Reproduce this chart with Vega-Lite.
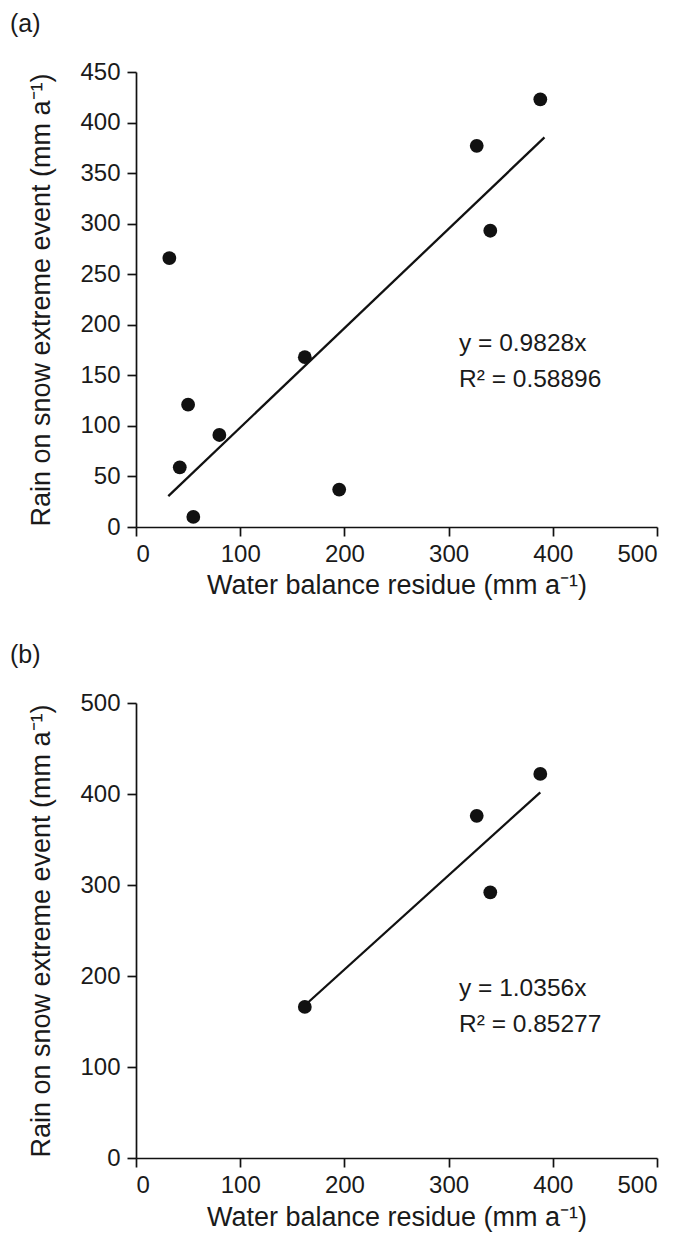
{
  "$schema": "https://vega.github.io/schema/vega-lite/v6.json",
  "background": "white",
  "padding": {"left": 10, "top": 12, "right": 5, "bottom": 5},
  "spacing": 45,
  "config": {
    "font": "Liberation Sans",
    "view": {"stroke": null},
    "axis": {
      "grid": false,
      "domainColor": "#111111",
      "domainWidth": 1.7,
      "tickColor": "#111111",
      "tickWidth": 1.7,
      "tickSize": 9,
      "labelFontSize": 24,
      "labelColor": "#1a1a1a",
      "labelFont": "Liberation Sans",
      "titleFont": "Liberation Sans",
      "titleFontSize": 27,
      "titleFontWeight": "normal",
      "titleColor": "#1a1a1a"
    },
    "title": {"fontSize": 25, "fontWeight": "normal", "color": "#1a1a1a", "font": "Liberation Sans"}
  },
  "datasets": {
    "pts": [
      {"panel": "a", "x": 32, "y": 266},
      {"panel": "a", "x": 42, "y": 59},
      {"panel": "a", "x": 50, "y": 121},
      {"panel": "a", "x": 55, "y": 10},
      {"panel": "a", "x": 80, "y": 91},
      {"panel": "a", "x": 162, "y": 168},
      {"panel": "a", "x": 195, "y": 37},
      {"panel": "a", "x": 327, "y": 377},
      {"panel": "a", "x": 340, "y": 293},
      {"panel": "a", "x": 388, "y": 423},
      {"panel": "b", "x": 162, "y": 166},
      {"panel": "b", "x": 327, "y": 376},
      {"panel": "b", "x": 340, "y": 292},
      {"panel": "b", "x": 388, "y": 422}
    ],
    "fit": [
      {"panel": "a", "x": 31, "y": 30.5},
      {"panel": "a", "x": 392, "y": 385.3},
      {"panel": "b", "x": 164, "y": 169.8},
      {"panel": "b", "x": 388, "y": 401.8}
    ],
    "eqs": [
      {"panel": "a", "x": 310, "y": 174, "label": "y = 0.9828x\nR² = 0.58896"},
      {"panel": "b", "x": 310, "y": 178, "label": "y = 1.0356x\nR² = 0.85277"}
    ]
  },
  "vconcat": [
    {
      "title": {"text": "(a)", "anchor": "start", "frame": "group", "dx": -126, "offset": 23},
      "width": 521,
      "height": 455,
      "layer": [
        {
          "data": {"name": "pts"},
          "transform": [{"filter": "datum.panel === 'a'"}],
          "mark": {"type": "circle", "size": 190, "opacity": 1, "color": "#111111"},
          "encoding": {
            "x": {"field": "x", "type": "quantitative", "scale": {"domain": [0, 500], "nice": false},
                  "axis": {"values": [0, 100, 200, 300, 400, 500], "title": "Water balance residue (mm a⁻¹)", "labelPadding": 6, "titlePadding": 6}},
            "y": {"field": "y", "type": "quantitative", "scale": {"domain": [0, 450], "nice": false},
                  "axis": {"values": [0, 50, 100, 150, 200, 250, 300, 350, 400, 450], "title": "Rain on snow extreme event (mm a⁻¹)", "labelPadding": 7, "titlePadding": 24}}
          }
        },
        {
          "data": {"name": "fit"},
          "transform": [{"filter": "datum.panel === 'a'"}],
          "mark": {"type": "line", "color": "#111111", "strokeWidth": 2.3},
          "encoding": {
            "x": {"field": "x", "type": "quantitative"},
            "y": {"field": "y", "type": "quantitative"}
          }
        },
        {
          "data": {"name": "eqs"},
          "transform": [{"filter": "datum.panel === 'a'"}],
          "mark": {"type": "text", "align": "left", "baseline": "alphabetic", "fontSize": 24.5, "lineHeight": 36, "lineBreak": "\n", "color": "#1a1a1a"},
          "encoding": {
            "x": {"field": "x", "type": "quantitative"},
            "y": {"field": "y", "type": "quantitative"},
            "text": {"field": "label"}
          }
        }
      ]
    },
    {
      "title": {"text": "(b)", "anchor": "start", "frame": "group", "dx": -126, "offset": 23},
      "width": 521,
      "height": 455,
      "layer": [
        {
          "data": {"name": "pts"},
          "transform": [{"filter": "datum.panel === 'b'"}],
          "mark": {"type": "circle", "size": 190, "opacity": 1, "color": "#111111"},
          "encoding": {
            "x": {"field": "x", "type": "quantitative", "scale": {"domain": [0, 500], "nice": false},
                  "axis": {"values": [0, 100, 200, 300, 400, 500], "title": "Water balance residue (mm a⁻¹)", "labelPadding": 6, "titlePadding": 7}},
            "y": {"field": "y", "type": "quantitative", "scale": {"domain": [0, 500], "nice": false},
                  "axis": {"values": [0, 100, 200, 300, 400, 500], "title": "Rain on snow extreme event (mm a⁻¹)", "labelPadding": 7, "titlePadding": 24}}
          }
        },
        {
          "data": {"name": "fit"},
          "transform": [{"filter": "datum.panel === 'b'"}],
          "mark": {"type": "line", "color": "#111111", "strokeWidth": 2.3},
          "encoding": {
            "x": {"field": "x", "type": "quantitative"},
            "y": {"field": "y", "type": "quantitative"}
          }
        },
        {
          "data": {"name": "eqs"},
          "transform": [{"filter": "datum.panel === 'b'"}],
          "mark": {"type": "text", "align": "left", "baseline": "alphabetic", "fontSize": 24.5, "lineHeight": 36, "lineBreak": "\n", "color": "#1a1a1a"},
          "encoding": {
            "x": {"field": "x", "type": "quantitative"},
            "y": {"field": "y", "type": "quantitative"},
            "text": {"field": "label"}
          }
        }
      ]
    }
  ]
}
